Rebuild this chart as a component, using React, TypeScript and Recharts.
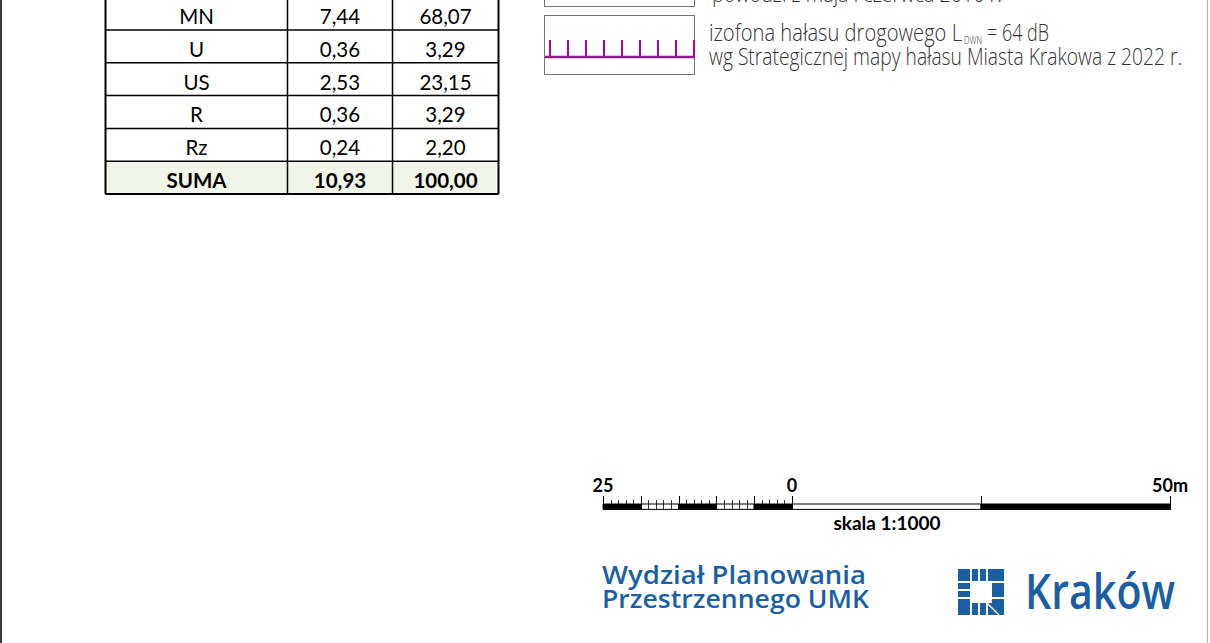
import { ComposedChart, Bar, XAxis, YAxis } from 'recharts'

// table values
const categories = ['MN', 'U', 'US', 'R', 'Rz', 'SUMA']
const areaHa = [7.44, 0.36, 2.53, 0.36, 0.24, 10.93]
const sharePct = [68.07, 3.29, 23.15, 3.29, 2.2, 100.0]

// scale bar (metres, negative = left part)
const scaleSegments = [-5, -5, -5, -5, -5, 25, 25]
const scaleLabelValues = [-25, 0, 50]
const scaleLabelTexts = ['25', '0', '50m']
const scaleMajorTicks = [-25, -20, -15, -10, -5, 0, 25, 50]
const scaleMinorTicks = [
  -24, -23, -22, -21, -19, -18, -17, -16, -14, -13, -12, -11, -9, -8, -7, -6, -4, -3, -2, -1,
]

const segFills = ['#000', 'none', '#000', 'none', '#000', 'none', '#000']

const fmt = (v: number) => v.toFixed(2).replace('.', ',')

const COLS = [105.5, 287.5, 392.5, 498.5]
const ROW_TOP = -2.8
const ROW_H = 32.8

const CH_TOP = 470
const BAR_TOP = 34
const BAR_H = 6
const BLUE = '#1a5fa6'
const PURPLE = '#8c1b8e'

const scaleData = [
  scaleSegments.reduce((acc: any, v, i) => {
    acc['s' + i] = v
    return acc
  }, { name: 'skala' }),
]

// one tick renderer: a line for every metre mark, a label where there is one
const ScaleTick = (props: any) => {
  const { x, payload } = props
  const v = payload.value
  const major = scaleMajorTicks.includes(v)
  const i = scaleLabelValues.indexOf(v)
  const px = Math.round(x) + 0.5
  return (
    <g>
      <line
        x1={px}
        x2={px}
        y1={BAR_TOP - (major ? 8 : 4)}
        y2={BAR_TOP + BAR_H}
        stroke="#000"
        strokeWidth={major ? 1 : 0.8}
      />
      {i >= 0 && (
        <text x={x} y={BAR_TOP - 12} textAnchor="middle" fontFamily="Lato" fontWeight={700} fontSize={18} fill="#000">
          {scaleLabelTexts[i]}
        </text>
      )}
    </g>
  )
}

const Table = () => {
  const rows = categories.length
  const bottom = ROW_TOP + rows * ROW_H
  return (
    <svg width={1210} height={643} style={{ position: 'absolute', left: 0, top: 0 }}>
      <rect x={COLS[0]} y={ROW_TOP + (rows - 1) * ROW_H} width={COLS[3] - COLS[0]} height={ROW_H} fill="#f0f4e9" />
      {categories.map((c, i) => {
        const y = ROW_TOP + i * ROW_H + 26.7
        const bold = c === 'SUMA'
        const vals = [c, fmt(areaHa[i]), fmt(sharePct[i])]
        return vals.map((t, j) => (
          <text
            key={c + j}
            x={(COLS[j] + COLS[j + 1]) / 2}
            y={y}
            textAnchor="middle"
            fontFamily="Lato"
            fontSize={20.5}
            fontWeight={bold ? 700 : 400}
            fill="#000"
          >
            {t}
          </text>
        ))
      })}
      {categories.map((c, i) => (
        <line
          key={'h' + c}
          x1={COLS[0]}
          x2={COLS[3]}
          y1={ROW_TOP + (i + 1) * ROW_H}
          y2={ROW_TOP + (i + 1) * ROW_H}
          stroke="#000"
          strokeWidth={i === rows - 1 ? 2 : 1.5}
        />
      ))}
      {COLS.map((x, i) => (
        <line key={'v' + i} x1={x} x2={x} y1={ROW_TOP} y2={bottom} stroke="#000" strokeWidth={i === 0 || i === 3 ? 2 : 1.5} />
      ))}
    </svg>
  )
}

const Legend = () => (
  <svg width={1210} height={100} style={{ position: 'absolute', left: 0, top: 0 }}>
    <rect x={544.5} y={-10} width={150} height={16.5} fill="none" stroke="#777" strokeWidth={1} />
    <text x={712} y={2} fontFamily="Open Sans" fontWeight={300} fontSize={22} fill="#333" textLength={290} lengthAdjust="spacingAndGlyphs">
      powodzi z maja i czerwca 2010 r.
    </text>
    <rect x={544.5} y={15.5} width={150} height={59} fill="none" stroke="#777" strokeWidth={1} />
    <line x1={545} x2={695} y1={57} y2={57} stroke={PURPLE} strokeWidth={2.5} />
    {[550, 568, 586, 604, 622, 640, 658, 676, 694].map((x) => (
      <line key={x} x1={x} x2={x} y1={40} y2={57} stroke={PURPLE} strokeWidth={2.2} />
    ))}
    <text x={709} y={41} fontFamily="Open Sans" fontWeight={300} fontSize={23} fill="#333" textLength={253} lengthAdjust="spacingAndGlyphs">
      izofona hałasu drogowego L
    </text>
    <text x={964} y={44} fontFamily="Open Sans" fontWeight={300} fontSize={10} fill="#333" textLength={18} lengthAdjust="spacingAndGlyphs">
      DWN
    </text>
    <text x={987} y={41} fontFamily="Open Sans" fontWeight={300} fontSize={23} fill="#333" textLength={62} lengthAdjust="spacingAndGlyphs">
      = 64 dB
    </text>
    <text x={709} y={65} fontFamily="Open Sans" fontWeight={300} fontSize={23} fill="#333" textLength={473} lengthAdjust="spacingAndGlyphs">
      wg Strategicznej mapy hałasu Miasta Krakowa z 2022 r.
    </text>
  </svg>
)

const KrakowMark = () => (
  <g transform="translate(958,569)" fill={BLUE}>
    <rect x={0} y={0} width={12} height={12} />
    <rect x={14} y={0} width={6} height={12} />
    <rect x={22} y={0} width={6} height={12} />
    <rect x={30} y={0} width={16} height={12} />
    <rect x={0} y={14} width={12} height={6} />
    <rect x={0} y={22} width={12} height={6} />
    <rect x={34} y={14} width={12} height={14} />
    <rect x={0} y={30} width={12} height={16} />
    <rect x={14} y={34} width={6} height={12} />
    <rect x={22} y={34} width={6} height={12} />
    <polygon points="30,34 34,34 34,30 46,30 46,46 42,46" />
    <polygon points="30,36 40,46 30,46" />
  </g>
)

export default function App() {
  return (
    <div
      style={{
        position: 'absolute',
        left: 0,
        top: 0,
        width: 1210,
        height: 643,
        background: '#fff',
        overflow: 'hidden',
      }}
    >
      <div style={{ position: 'absolute', left: 0, top: 0, width: 2, height: 643, background: '#3a3a3a' }} />
      <div style={{ position: 'absolute', left: 1207, top: 0, width: 1, height: 643, background: '#b0b0b0' }} />
      <Table />
      <Legend />
      <div style={{ position: 'absolute', left: 583, top: CH_TOP }}>
        <ComposedChart
          width={607}
          height={80}
          data={scaleData}
          layout="vertical"
          stackOffset="sign"
          barCategoryGap={0}
          margin={{ top: 4, right: 20, bottom: 80 - BAR_TOP - BAR_H, left: 20 }}
          style={{ overflow: 'visible' }}
        >
          <XAxis
            type="number"
            domain={[-25, 50]}
            ticks={[...scaleMajorTicks, ...scaleMinorTicks].sort((a, b) => a - b)}
            interval={0}
            orientation="top"
            height={30}
            axisLine={false}
            tickLine={false}
            tick={ScaleTick}
          />
          <YAxis type="category" dataKey="name" hide />
          {scaleSegments.map((_, i) => (
            <Bar
              key={i}
              dataKey={'s' + i}
              stackId="a"
              fill={segFills[i]}
              stroke="#000"
              strokeWidth={1}
              barSize={BAR_H}
              isAnimationActive={false}
            />
          ))}
        </ComposedChart>
      </div>
      <svg width={1210} height={643} style={{ position: 'absolute', left: 0, top: 0, pointerEvents: 'none' }}>
        <text x={887} y={530} textAnchor="middle" fontFamily="Lato" fontWeight={700} fontSize={19} fill="#000">
          skala 1:1000
        </text>
        <text x={602} y={584} fontFamily="Open Sans" fontWeight={600} fontSize={25} fill={BLUE} textLength={264} lengthAdjust="spacingAndGlyphs">
          Wydział  Planowania
        </text>
        <text x={602} y={608} fontFamily="Open Sans" fontWeight={600} fontSize={25} fill={BLUE} textLength={267} lengthAdjust="spacingAndGlyphs">
          Przestrzennego UMK
        </text>
        <KrakowMark />
        <text x={1025} y={609} fontFamily="Open Sans" fontWeight={600} fontSize={49} fill={BLUE} textLength={150} lengthAdjust="spacingAndGlyphs">
          Kraków
        </text>
      </svg>
    </div>
  )
}
